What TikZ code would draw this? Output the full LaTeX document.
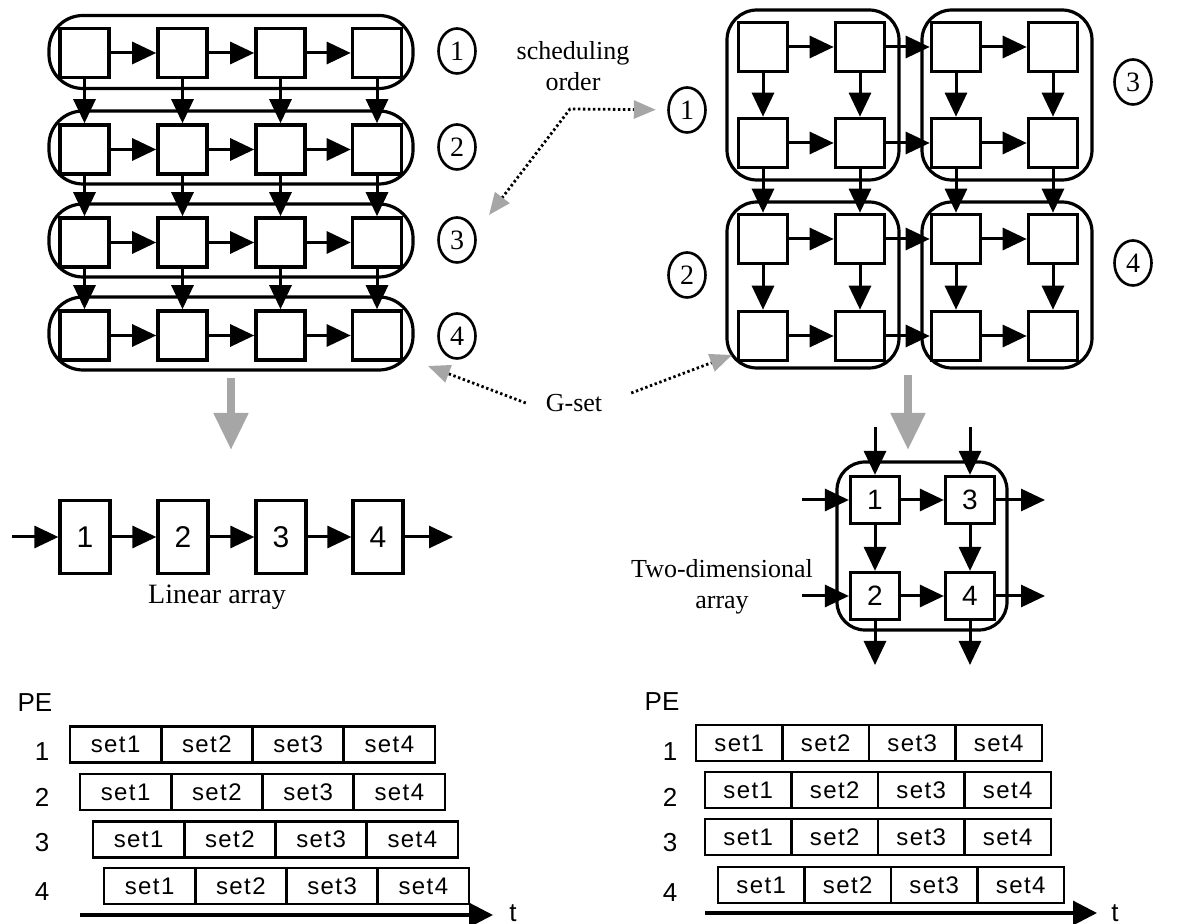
\documentclass[tikz,border=0pt]{standalone}
\usepackage{fontspec}
\setmainfont{Liberation Serif}
\setsansfont{Liberation Sans}
\newfontfamily\setfont[LetterSpace=6]{Liberation Sans}
\usetikzlibrary{arrows.meta,shapes.geometric,calc}
\begin{document}
\begin{tikzpicture}[x=0.5pt,y=-0.5pt,
  cell/.style={draw,line width=1.8pt,minimum width=24.5pt,minimum height=24.5pt,inner sep=0pt},
  grp/.style={draw,line width=1.6pt,inner sep=0pt},
  arr/.style={line width=1.5pt,-{Triangle[length=12pt,width=11pt]}},
  circ/.style={draw,ellipse,line width=1.3pt,minimum width=18.5pt,minimum height=22.5pt,inner sep=0pt,font=\fontsize{14}{16}\selectfont},
  lbl/.style={font=\fontsize{13}{15.5}\selectfont,align=center},
  linbox/.style={draw,line width=1.6pt,minimum width=25pt,minimum height=36.5pt,inner sep=0pt,font=\sffamily\fontsize{15}{17}\selectfont},
  tdbox/.style={draw,line width=1.6pt,minimum width=24.5pt,minimum height=23.5pt,inner sep=0pt,font=\sffamily\fontsize{14}{16}\selectfont},
  tcell/.style={draw,line width=1.4pt,minimum height=18pt,inner sep=0pt,font=\setfont\fontsize{12}{14}\selectfont},
  plbl/.style={font=\sffamily\fontsize{13}{15}\selectfont,inner sep=0pt},
  bigarr/.style={line width=4pt,draw=gray!70,-{Triangle[length=18.5pt,width=16.5pt,color=gray!70]}},
  dline/.style={line width=1.4pt,dash pattern=on 1.2pt off 1.3pt},
  axis/.style={line width=1.6pt,-{Triangle[length=12pt,width=12pt]}}
]
\tikzset{dtip/.tip={Triangle[length=11pt,width=9pt,color=gray!70]}}
\useasboundingbox (0,0) rectangle (1184,924);

% ---------- left grid ----------
\foreach \r/\gy in {1/52,2/147.5,3/240.5,4/333.5}{
  \node[grp,rounded corners=17pt,minimum width=182pt,minimum height=36.5pt] (Lg\r) at (231,\gy) {};
}
\foreach \r/\y in {1/53,2/149.5,3/242.5,4/335.5}{
  \foreach \c/\x in {1/84.5,2/182.5,3/280.5,4/377}{
    \node[cell] (L\r\c) at (\x,\y) {};
  }
}
\foreach \r in {1,...,4}{
  \foreach \a/\b in {1/2,2/3,3/4}{
    \draw[arr] (L\r\a) -- (L\r\b);
  }
}
\foreach \a/\b in {1/2,2/3,3/4}{
  \foreach \c in {1,...,4}{
    \draw[arr] (L\a\c) -- (L\b\c);
  }
}
\node[circ] (CL1) at (457,51) {1};
\node[circ] (CL2) at (457,147) {2};
\node[circ] (CL3) at (457,240) {3};
\node[circ] (CL4) at (457,336) {4};

% ---------- right grid ----------
\node[grp,rounded corners=15pt,minimum width=86pt,minimum height=85pt] (G1) at (813,95) {};
\node[grp,rounded corners=15pt,minimum width=85pt,minimum height=85pt] (G3) at (1007,95) {};
\node[grp,rounded corners=15pt,minimum width=86pt,minimum height=83pt] (G2) at (813,285) {};
\node[grp,rounded corners=15pt,minimum width=85pt,minimum height=83pt] (G4) at (1007,285) {};
\foreach \r/\y in {1/47,2/143,3/239,4/336}{
  \foreach \c/\x in {1/763,2/860,3/956,4/1053}{
    \node[cell] (R\r\c) at (\x,\y) {};
  }
}
\foreach \r in {1,...,4}{
  \foreach \a/\b in {1/2,2/3,3/4}{
    \draw[arr] (R\r\a) -- (R\r\b);
  }
}
\foreach \a/\b in {1/2,2/3,3/4}{
  \foreach \c in {1,...,4}{
    \draw[arr] (R\a\c) -- (R\b\c);
  }
}
\node[circ] (CR1) at (687,110) {1};
\node[circ] (CR2) at (687,275) {2};
\node[circ] (CR3) at (1133,82) {3};
\node[circ] (CR4) at (1133,263) {4};

% ---------- labels and dotted arrows ----------
\node[lbl] (sched) at (573,66) {scheduling\\order};
\coordinate (s0) at (489,215);
\coordinate (bend1) at (570,109);
\draw[dline,dtip-dtip,shorten >=5.7pt] (s0) -- (bend1) -- (CR1);

\node[lbl] (Gset) at (574,403) {G-set};
\coordinate (gL) at (428,366);
\coordinate (gR) at (732,355);
\draw[dline,-dtip] ([xshift=-6.5pt]Gset.west) -- (gL);
\draw[dline,-dtip] ([xshift=11pt,yshift=5pt]Gset.east) -- (gR);

% ---------- big gray arrows ----------
\coordinate (ba1) at (231,450);
\draw[bigarr] ([yshift=-3pt]Lg4.south) -- (ba1);
\coordinate (rg0) at (908,375);
\coordinate (ba2) at (908,450);
\draw[bigarr] (rg0) -- (ba2);

% ---------- linear array ----------
\foreach \i/\x in {1/85,2/183,3/281,4/378}{
  \node[linbox] (P\i) at (\x,537) {\i};
}
\coordinate (pin) at (12,537);
\coordinate (pout) at (453,537);
\draw[arr] (pin) -- (P1);
\draw[arr] (P1) -- (P2);
\draw[arr] (P2) -- (P3);
\draw[arr] (P3) -- (P4);
\draw[arr] (P4) -- (pout);
\node[lbl,font=\fontsize{14}{16}\selectfont] (lintxt) at (217,597) {Linear array};

% ---------- two-dimensional array ----------
\node[grp,rounded corners=14pt,minimum width=85pt,minimum height=84pt] (TD) at (922,546) {};
\node[tdbox] (Q1) at (875,500) {1};
\node[tdbox] (Q3) at (970,500) {3};
\node[tdbox] (Q2) at (875,596) {2};
\node[tdbox] (Q4) at (970,596) {4};
\draw[arr] (Q1) -- (Q3);
\draw[arr] (Q2) -- (Q4);
\draw[arr] (Q1) -- (Q2);
\draw[arr] (Q3) -- (Q4);
\coordinate (t1) at (875,427);
\coordinate (t3) at (970,427);
\coordinate (l1) at (802,500);
\coordinate (l2) at (802,596);
\coordinate (o3) at (1045,500);
\coordinate (o4) at (1045,596);
\coordinate (b2) at (875,665);
\coordinate (b4) at (970,665);
\draw[arr] (t1) -- (Q1);
\draw[arr] (t3) -- (Q3);
\draw[arr] (l1) -- (Q1);
\draw[arr] (l2) -- (Q2);
\draw[arr] (Q3) -- (o3);
\draw[arr] (Q4) -- (o4);
\draw[arr] (Q2) -- (b2);
\draw[arr] (Q4) -- (b4);
\node[lbl] (tdtxt) at (722,587) {Two-dimensional\\array};

% ---------- timing chart left ----------
\node[plbl] (PEa) at (35,703) {PE};
\foreach \r/\xo/\yc/\ly in {1/70/744.5/752,2/80/792/797,3/93/839.5/843,4/104/886/892}{
  \node[plbl] (NA\r) at (42,\ly) {\r};
  \foreach \c in {1,...,4}{
    \node[tcell,minimum width=45.625pt] (A\r\c) at ({\xo+(\c-0.5)*91.25},\yc) {set\c};
  }
}
\coordinate (axA0) at (80,915);
\coordinate (axA1) at (493,915);
\draw[axis] (axA0) -- (axA1);
\node[plbl] (tA) at (513,913) {t};

% ---------- timing chart right ----------
\node[plbl] (PEb) at (662,702) {PE};
\foreach \r/\xo/\yc/\ly in {1/696/743/752,2/705/790/797,3/705/837/843,4/718/885/893}{
  \node[plbl] (NB\r) at (670,\ly) {\r};
  \foreach \c in {1,...,4}{
    \node[tcell,minimum width=43.25pt] (B\r\c) at ({\xo+(\c-0.5)*86.5},\yc) {set\c};
  }
}
\coordinate (axB0) at (705,913);
\coordinate (axB1) at (1097,913);
\draw[axis] (axB0) -- (axB1);
\node[plbl] (tB) at (1115,913) {t};
\end{tikzpicture}
\end{document}
